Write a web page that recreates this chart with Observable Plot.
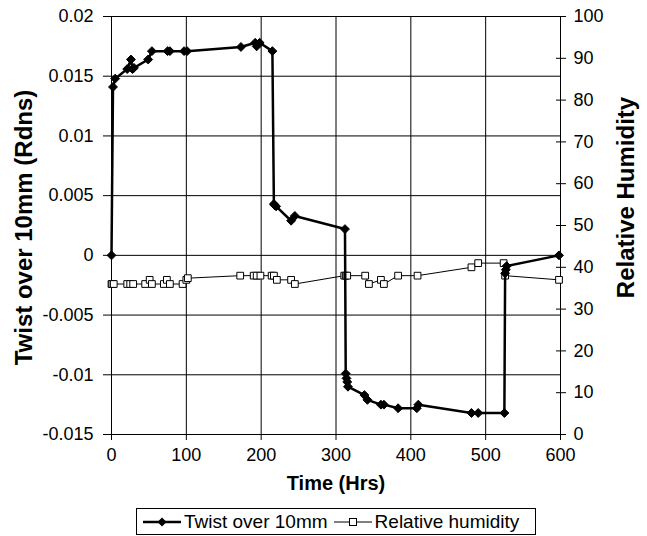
<!DOCTYPE html>
<html>
<head>
<meta charset="utf-8">
<script src="https://cdn.jsdelivr.net/npm/d3@7"></script>
<script src="https://cdn.jsdelivr.net/npm/@observablehq/plot@0.6"></script>
<style>
  html, body { margin: 0; padding: 0; background: white; }
  #wrap { position: relative; width: 647px; height: 536px; font-family: "Liberation Sans", Arial, sans-serif; }
  #legend { position: absolute; left: 136px; top: 508px; width: 400px; height: 27px; border: 1px solid black;
            box-sizing: border-box; display: flex; align-items: center; font-size: 19px; color: black; white-space: nowrap; }
  #legend .item { display: flex; align-items: center; }
  #legend svg { margin: 0 3px 0 6px; }
</style>
</head>
<body>
<div id="wrap"><div id="chart"></div><div id="legend"></div></div>
<script>
// ---- data ----
const xTicks = [0, 100, 200, 300, 400, 500, 600];
const yTicks = [-0.015, -0.01, -0.005, 0, 0.005, 0.01, 0.015, 0.02];
const rhTicks = [0, 10, 20, 30, 40, 50, 60, 70, 80, 90, 100];

const twistHrs = [0, 2, 5, 21, 26, 28, 30, 49, 54, 75, 78, 97, 101, 173, 192, 194, 198, 215,
  217, 218, 220, 240, 245, 312, 313, 314, 315, 316, 338, 342, 360, 364, 383, 408, 410, 481, 490, 525,
  526, 527, 528, 598];
const twist = [0, 0.0141, 0.0148, 0.0156, 0.0164, 0.0156, 0.0157, 0.0164, 0.0171, 0.0171, 0.0171, 0.0171, 0.0171, 0.01745, 0.0178, 0.0175, 0.0178, 0.0171,
  0.0043, 0.0042, 0.0041, 0.0029, 0.0033, 0.0022, -0.0099, -0.0103, -0.0106, -0.011, -0.0117, -0.0121, -0.0125, -0.0125, -0.0128, -0.0128, -0.0125, -0.0132, -0.0132, -0.0132,
  -0.0015, -0.0012, -0.0009, 0];

const rhHrs = [0, 1, 3, 21, 25, 29, 45, 51, 54, 70, 74, 78, 95, 100, 102, 172, 190, 194, 199, 214, 217, 221,
  240, 245, 311, 313, 315, 339, 344, 360, 364, 383, 409, 481, 490, 524, 526, 598];
const rh = [36, 36, 36, 36, 36, 36, 36, 37, 36, 36, 37, 36, 36, 37, 37.4, 38, 38, 38, 38, 38, 38, 37,
  37, 36, 38, 38, 38, 38, 36, 37, 36, 38, 38, 40, 41, 41, 38, 37];

const seriesNames = ["Twist over 10mm", "Relative humidity"];
const xTitle = "Time (Hrs)";
const yTitle = "Twist over 10mm (Rdns)";
const y2Title = "Relative Humidity";

// ---- secondary axis mapping (RH 0..100 onto the twist domain) ----
const yDomain = [-0.015, 0.02];
const rhToY = v => yDomain[0] + v / 100 * (yDomain[1] - yDomain[0]);
const yToRh = d => Math.round((d - yDomain[0]) / (yDomain[1] - yDomain[0]) * 100);

const twistData = twistHrs.map((h, i) => ({h, v: twist[i]}));
const rhData = rhHrs.map((h, i) => ({h, v: rhToY(rh[i])}));

const fontFam = "'Liberation Sans', Arial, sans-serif";

const chart = Plot.plot({
  width: 647, height: 500,
  marginLeft: 111, marginRight: 87, marginTop: 16, marginBottom: 66,
  x: {domain: [0, 600]},
  y: {domain: yDomain},
  style: {fontFamily: fontFam, fontSize: "18px", color: "black", background: "white"},
  marks: [
    Plot.gridX(xTicks, {stroke: "black", strokeOpacity: 1, strokeWidth: 1}),
    Plot.gridY(yTicks, {stroke: "black", strokeOpacity: 1, strokeWidth: 1}),
    Plot.axisX(xTicks, {tickSize: 6, tickPadding: 8, label: null, tickFormat: d => String(d), fontSize: 18}),
    Plot.axisY(yTicks, {anchor: "left", tickSize: 8, tickPadding: 10, label: null, tickFormat: d => String(d), fontSize: 18}),
    Plot.axisY(rhTicks.map(rhToY), {anchor: "right", tickSize: 5, tickPadding: 8, label: null, tickFormat: d => String(yToRh(d)), fontSize: 18}),
    Plot.axisY(rhTicks.map(rhToY), {anchor: "right", tickSize: -5, tickPadding: 0, label: null, tickFormat: () => ""}),
    // relative humidity
    Plot.line(rhData, {x: "h", y: "v", stroke: "black", strokeWidth: 1}),
    Plot.dot(rhData, {x: "h", y: "v", symbol: "square", r: 3.8, fill: "white", stroke: "black", strokeWidth: 1}),
    // twist
    Plot.line(twistData, {x: "h", y: "v", stroke: "black", strokeWidth: 2.5}),
    Plot.dot(twistData, {x: "h", y: "v", symbol: "diamond2", r: 4, fill: "black", stroke: "black", strokeWidth: 1}),
    // titles
    Plot.text([xTitle], {frameAnchor: "bottom", dy: 55, textAnchor: "middle", fontWeight: "bold", fontSize: 20, fill: "black"}),
    Plot.text([yTitle], {frameAnchor: "left", dx: -87, dy: 2, rotate: -90, textAnchor: "middle", fontWeight: "bold", fontSize: 24, fill: "black"}),
    Plot.text([y2Title], {frameAnchor: "right", dx: 66, dy: -28, rotate: -90, textAnchor: "middle", fontWeight: "bold", fontSize: 24, fill: "black"})
  ]
});
document.getElementById("chart").appendChild(chart);

// ---- legend ----
const legend = document.getElementById("legend");
const sym = [
  `<svg width="38" height="12"><line x1="0" y1="6" x2="38" y2="6" stroke="black" stroke-width="2.5"/><path d="M19,1.5L23.5,6L19,10.5L14.5,6Z" fill="black"/></svg>`,
  `<svg width="38" height="12"><line x1="0" y1="6" x2="38" y2="6" stroke="black" stroke-width="1"/><rect x="15.5" y="2.5" width="7" height="7" fill="white" stroke="black"/></svg>`
];
seriesNames.forEach((name, i) => {
  const it = document.createElement("div");
  it.className = "item";
  it.innerHTML = sym[i] + `<span>${name}</span>`;
  legend.appendChild(it);
});
</script>
</body>
</html>
